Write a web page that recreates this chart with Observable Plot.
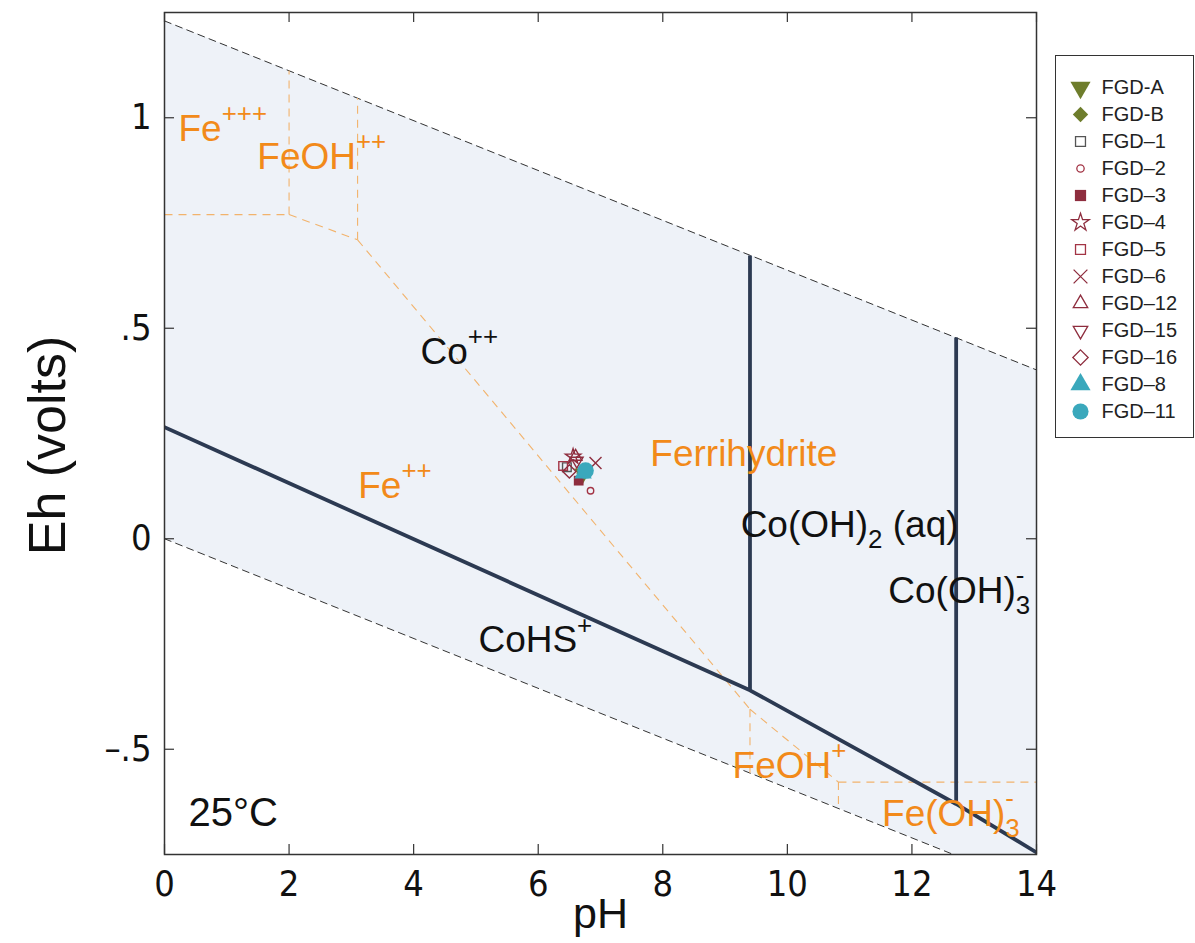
<!DOCTYPE html>
<html><head><meta charset="utf-8">
<script src="https://cdn.jsdelivr.net/npm/d3@7"></script>
<script src="https://cdn.jsdelivr.net/npm/@observablehq/plot@0.6"></script>
<style>
body{margin:0;background:#fff;font-family:"Liberation Sans",Arial,Helvetica,sans-serif;}
#wrap{position:relative;width:1195px;height:943px;}
#legend{position:absolute;left:1055px;top:55px;line-height:0;}
#legend svg{border:1px solid #333;}
</style></head><body><div id="wrap"><div id="chart"></div><div id="legend"></div></div>
<script>
// ---- data ----
const xTicks = [0, 2, 4, 6, 8, 10, 12, 14];
const yTicks = [-0.5, 0, 0.5, 1];
const yTickLabels = ["–.5", "0", ".5", "1"];

// water stability limits
const waterPH = [0, 14];
const waterUpperEh = [1.23, 0.401];
const waterLowerEh = [0, -0.829];

// cobalt boundaries (solid)
const coBasePH = [0, 9.4, 12.71, 14];
const coBaseEh = [0.265, -0.36, -0.63, -0.745];
const coVertPH = [9.4, 12.71];
const coVertBottomEh = [-0.36, -0.63];
const coVertTopEh = [0.673, 0.478];

// iron boundaries (dashed)
const feFromPH = [0, 2.0, 2.0, 3.1, 3.1, 9.4, 9.4, 10.82, 10.82];
const feFromEh = [0.77, 0.77, 0.77, 0.71, 0.71, -0.405, -0.405, -0.578, -0.578];
const feToPH   = [2.0, 2.0, 3.1, 3.1, 9.4, 9.4, 10.82, 10.82, 14];
const feToEh   = [0.77, 1.112, 0.71, 1.047, -0.405, -0.556, -0.578, -0.641, -0.578];

// field labels
const labelText = ["Fe^{+++}", "FeOH^{++}", "Co^{++}", "Fe^{++}", "Ferrihydrite", "Co(OH)_{2} (aq)", "Co(OH)_{3}^{-}", "CoHS^{+}", "FeOH^{+}", "Fe(OH)_{3}^{-}", "25°C"];
const labelPH   = [0.225, 1.49, 4.11, 3.11, 7.80, 9.25, 11.62, 5.04, 9.12, 11.52, 0.385];
const labelEh   = [0.973, 0.907, 0.444, 0.126, 0.202, 0.033, -0.124, -0.242, -0.539, -0.653, -0.651];
const labelKind = ["Fe", "Fe", "Co", "Fe", "Fe", "Co", "Co", "Co", "Fe", "Fe", "T"];

// samples
const sampleNames = ["FGD-A", "FGD-B", "FGD–1", "FGD–2", "FGD–3", "FGD–4", "FGD–5", "FGD–6", "FGD–12", "FGD–15", "FGD–16", "FGD–8", "FGD–11"];
const samplePH = [6.72, 6.72, 6.46, 6.84, 6.65, 6.56, 6.40, 6.92, 6.60, 6.62, 6.50, 6.72, 6.76];
const sampleEh = [0.155, 0.155, 0.170, 0.114, 0.138, 0.195, 0.173, 0.180, 0.195, 0.185, 0.160, 0.155, 0.162];

// ---- styles ----
const OLIVE = "#6e7d2c", MAROON = "#8e2d3e", RED = "#a33445", GRAY = "#555", TEAL = "#3aa8bc";
const sampleStyle = {
  "FGD-A":  {symbol: "triangle", fill: OLIVE, rotate: 180, r: 6.5},
  "FGD-B":  {symbol: "diamond2", fill: OLIVE, r: 6},
  "FGD–1":  {symbol: "square2", stroke: GRAY, r: 5.5},
  "FGD–2":  {symbol: "circle", stroke: RED, r: 3.2},
  "FGD–3":  {symbol: "square", fill: MAROON, r: 5.5},
  "FGD–4":  {symbol: "star", stroke: MAROON, r: 4.8},
  "FGD–5":  {symbol: "square2", stroke: RED, r: 5.5},
  "FGD–6":  {symbol: "times", stroke: MAROON, r: 5.5},
  "FGD–12": {symbol: "triangle2", stroke: MAROON, r: 6},
  "FGD–15": {symbol: "triangle2", stroke: MAROON, rotate: 180, r: 6},
  "FGD–16": {symbol: "diamond2", stroke: MAROON, r: 6},
  "FGD–8":  {symbol: "triangle", fill: TEAL, r: 6.5},
  "FGD–11": {symbol: "circle", fill: TEAL, r: 8.3}
};
const FONT = "'Liberation Sans', Arial, Helvetica, sans-serif";
const NARROW = "'Liberation Sans Narrow', 'Arial Narrow', 'DejaVu Sans Condensed', sans-serif";
const LABEL_FS = 37;

// ---- tables built from arrays ----
const water = waterPH.map((p, i) => ({pH: p, hi: waterUpperEh[i], lo: waterLowerEh[i]}));
const coBase = coBasePH.map((p, i) => ({pH: p, Eh: coBaseEh[i]}));
const coVert = coVertPH.map((p, i) => ({pH: p, lo: coVertBottomEh[i], hi: coVertTopEh[i]}));
const fe = feFromPH.map((p, i) => ({x1: p, y1: feFromEh[i], x2: feToPH[i], y2: feToEh[i]}));
const labels = labelText.map((t, i) => ({t, pH: labelPH[i], Eh: labelEh[i], kind: labelKind[i]}));
const samples = sampleNames.map((n, i) => ({name: n, pH: samplePH[i], Eh: sampleEh[i]}));

const W = 1195, H = 943, mL = 164, mR = 159, mT = 12, mB = 89;
const fw = W - mL - mR, fh = H - mT - mB, TICK = 10;

const chart = Plot.plot({
  width: W, height: H,
  marginLeft: mL, marginRight: mR, marginTop: mT, marginBottom: mB,
  x: {domain: [0, 14]},
  y: {domain: [-0.75, 1.25]},
  style: {fontFamily: FONT, background: "#fff", color: "#111"},
  marks: [
    Plot.areaY(water, {x: "pH", y1: "lo", y2: "hi", fill: "#eef2f8", clip: true}),
    Plot.line(water, {x: "pH", y: "hi", stroke: "#333", strokeWidth: 1, strokeDasharray: "7,5", clip: true}),
    Plot.line(water, {x: "pH", y: "lo", stroke: "#333", strokeWidth: 1, strokeDasharray: "7,5", clip: true}),
    Plot.link(fe, {x1: "x1", y1: "y1", x2: "x2", y2: "y2", stroke: "#f2b36c", strokeWidth: 1.1, strokeDasharray: "8,6", clip: true}),
    Plot.line(coBase, {x: "pH", y: "Eh", stroke: "#2c3a52", strokeWidth: 3.8, clip: true}),
    Plot.link(coVert, {x1: "pH", x2: "pH", y1: "lo", y2: "hi", stroke: "#2c3a52", strokeWidth: 3.8}),
    Plot.text(labels.filter(d => d.kind !== "T"), {x: "pH", y: "Eh", text: "t", textAnchor: "start", lineAnchor: "middle",
      fontSize: LABEL_FS, fill: d => d.kind === "Fe" ? "#f28a1a" : "#111", className: "labels"}),
    Plot.text(labels.filter(d => d.kind === "T"), {x: "pH", y: "Eh", text: "t", textAnchor: "start", lineAnchor: "middle",
      fontSize: 40, fill: "#111"}),
    ...samples.map(s => {
      const st = sampleStyle[s.name];
      return Plot.dot([s], {x: "pH", y: "Eh", symbol: st.symbol, r: st.r, rotate: st.rotate || 0,
        fill: st.fill || "none", stroke: st.stroke || "none", strokeWidth: 1.4});
    }),
    // inward ticks on all four sides
    Plot.tickX(xTicks, {x: d => d, insetTop: fh - TICK, stroke: "#333", strokeWidth: 1.2}),
    Plot.tickX(xTicks, {x: d => d, insetBottom: fh - TICK, stroke: "#333", strokeWidth: 1.2}),
    Plot.tickY(yTicks, {y: d => d, insetRight: fw - TICK, stroke: "#333", strokeWidth: 1.2}),
    Plot.tickY(yTicks, {y: d => d, insetLeft: fw - TICK, stroke: "#333", strokeWidth: 1.2}),
    Plot.axisX(xTicks, {tickSize: 0, tickPadding: 16, fontSize: 36, fontFamily: NARROW, label: null, fill: "#111"}),
    Plot.axisY(yTicks, {tickSize: 0, tickPadding: 13, fontSize: 36, fontFamily: NARROW, label: null, fill: "#111",
      tickFormat: d => yTickLabels[yTicks.indexOf(d)]}),
    Plot.text(["pH"], {frameAnchor: "bottom", dy: 60, text: d => d, fontSize: 43, lineAnchor: "middle", fill: "#111"}),
    Plot.text(["Eh (volts)"], {frameAnchor: "left", dx: -116, dy: 12, rotate: -90, text: d => d, fontSize: 52,
      textAnchor: "middle", lineAnchor: "middle", fill: "#111"}),
    Plot.frame({stroke: "#333", strokeWidth: 1.5})
  ]
});
document.getElementById("chart").appendChild(chart);

// rich text: ^{sup} and _{sub}
d3.select(chart).selectAll("g.labels text").each(function() {
  const s = this.textContent;
  if (!/[\^_]\{/.test(s)) return;
  const fs = LABEL_FS;
  const parts = s.split(/(\^\{[^}]*\}|_\{[^}]*\})/).filter(p => p);
  this.textContent = "";
  let shift = 0, prevSub = null;
  for (const p of parts) {
    const kind = p.startsWith("^{") ? "sup" : p.startsWith("_{") ? "sub" : "base";
    const txt = kind === "base" ? p : p.slice(2, -1);
    const target = kind === "sup" ? -0.5 * fs : kind === "sub" ? 0.3 * fs : 0;
    const t = d3.select(this).append("tspan").text(txt).attr("dy", target - shift);
    if (kind !== "base") t.attr("font-size", 0.7 * fs);
    if (kind === "sup" && prevSub) t.attr("dx", -prevSub.getComputedTextLength());
    shift = target;
    prevSub = kind === "sub" ? t.node() : null;
  }
});

// legend
const legend = Plot.plot({
  width: 137, height: 381,
  marginTop: 28, marginBottom: 23, marginLeft: 0, marginRight: 0,
  x: {axis: null},
  y: {type: "point", domain: sampleNames, padding: 0, axis: null},
  style: {fontFamily: FONT, background: "#fff"},
  marks: [
    ...sampleNames.map(n => {
      const st = sampleStyle[n];
      return Plot.dot([n], {y: d => d, frameAnchor: "left", dx: 24, symbol: st.symbol,
        r: Math.min(st.r, 7) * 1.15, rotate: st.rotate || 0,
        fill: st.fill || "none", stroke: st.stroke || "none", strokeWidth: 1.3});
    }),
    Plot.text(sampleNames, {y: d => d, frameAnchor: "left", dx: 45, text: d => d, textAnchor: "start", fontSize: 20, fill: "#222"})
  ]
});
document.getElementById("legend").appendChild(legend);
</script></body></html>
